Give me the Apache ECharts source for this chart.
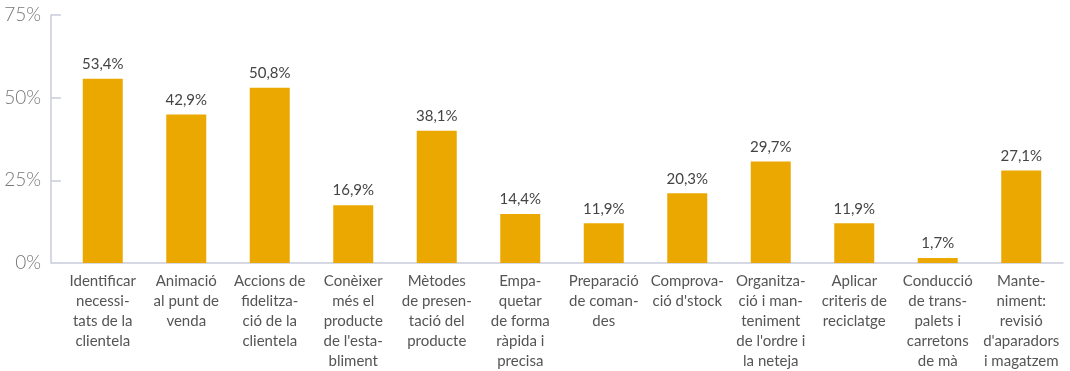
<!DOCTYPE html>
<html>
<head>
<meta charset="utf-8">
<script src="https://cdn.jsdelivr.net/npm/echarts@6/dist/echarts.min.js"></script>
<style>
html, body { margin:0; padding:0; background:#fff; }
#chart { width:1070px; height:371px; }
</style>
</head>
<body>
<div id="chart"></div>
<script>
var categories = [
    'Identificar\nnecessi-\ntats de la\nclientela',
    'Animació\nal punt de\nvenda',
    'Accions de\nfidelitza-\nció de la\nclientela',
    'Conèixer\nmés el\nproducte\nde l\'esta-\nbliment',
    'Mètodes\nde presen-\ntació del\nproducte',
    'Empa-\nquetar\nde forma\nràpida i\nprecisa',
    'Preparació\nde coman-\ndes',
    'Comprova-\nció d\'stock',
    'Organitza-\nció i man-\nteniment\nde l\'ordre i\nla neteja',
    'Aplicar\ncriteris de\nreciclatge',
    'Conducció\nde trans-\npalets i\ncarretons\nde mà',
    'Mante-\nniment:\nrevisió\nd\'aparadors\ni magatzem'
];
// bar heights as drawn in the picture
var values = [55.7, 44.9, 53.0, 17.5, 40.0, 14.8, 12.0, 21.1, 30.7, 12.0, 1.5, 28.0];
// printed value labels
var valueLabels = ['53,4%', '42,9%', '50,8%', '16,9%', '38,1%', '14,4%', '11,9%', '20,3%', '29,7%', '11,9%', '1,7%', '27,1%'];
var yTicks = [0, 25, 50, 75];

var font = 'Lato';
var option = {
    animation: false,
    grid: {
        left: 61,
        right: 7,
        top: 15,
        bottom: 107
    },
    xAxis: {
        type: 'category',
        data: categories,
        axisLine: { lineStyle: { color: '#c9ccda', width: 1.5 } },
        axisTick: { show: false },
        axisLabel: {
            interval: 0,
            color: '#555',
            fontFamily: font,
            fontSize: 15,
            lineHeight: 20,
            margin: 8
        }
    },
    yAxis: {
        type: 'value',
        min: yTicks[0],
        max: yTicks[yTicks.length - 1],
        interval: 25,
        offset: 10,
        splitLine: { show: false },
        axisLine: { show: true, lineStyle: { color: '#c9ccda', width: 1.5 } },
        axisTick: { show: true, inside: true, length: 10, lineStyle: { color: '#c9ccda', width: 1.5 } },
        axisLabel: {
            color: '#777',
            fontFamily: font,
            fontWeight: 300,
            fontSize: 19,
            margin: 10,
            formatter: '{value}%'
        }
    },
    series: [{
        type: 'bar',
        barWidth: 40,
        data: values,
        itemStyle: { color: '#EBA800' },
        label: {
            show: true,
            position: 'top',
            distance: 7,
            color: '#444',
            fontFamily: font,
            fontSize: 15,
            formatter: function (p) { return valueLabels[p.dataIndex]; }
        }
    }]
};
var chart = echarts.init(document.getElementById('chart'));
chart.setOption(option);
</script>
</body>
</html>
